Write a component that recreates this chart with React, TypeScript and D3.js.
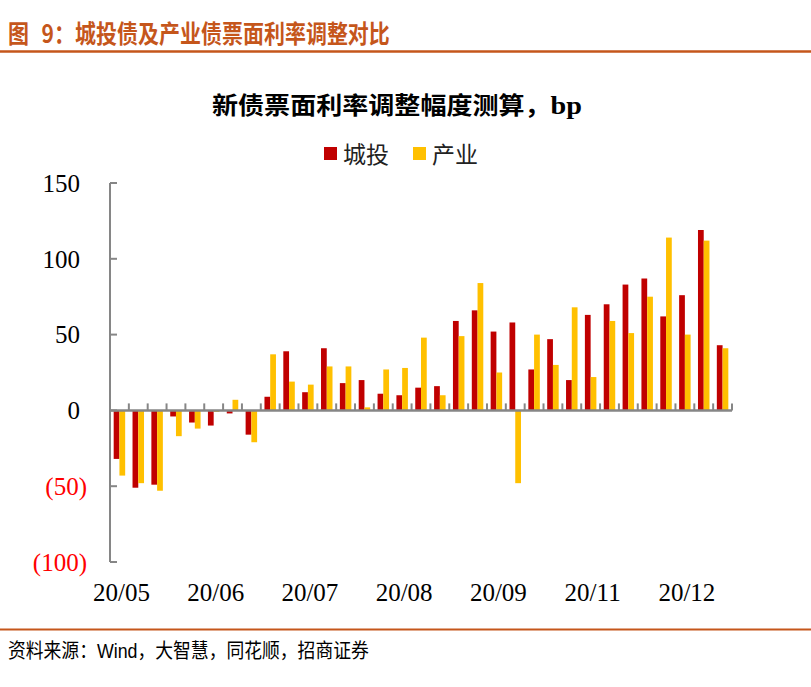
import React, {useEffect} from 'react';
import * as d3 from 'd3';

const xLabels = [
  '20/05', '', '', '', '',
  '20/06', '', '', '', '',
  '20/07', '', '', '', '',
  '20/08', '', '', '', '',
  '20/09', '', '', '', '',
  '20/11', '', '', '', '',
  '20/12', '', '',
];

const chengtou = [
  -32, -51, -49, -4, -8, -10, -2, -16, 9, 39, 12,
  41, 18, 20, 11, 10, 15, 16, 59, 66, 52, 58,
  27, 47, 20, 63, 70, 83, 87, 62, 76, 119, 43,
];

const chanye = [
  -43, -48, -53, -17, -12, -1, 7, -21, 37, 19, 17,
  29, 29, 2, 27, 28, 48, 10, 49, 84, 25, -48,
  50, 30, 68, 22, 59, 51, 75, 114, 50, 112, 41,
];

const seriesNames = ['城投', '产业'];
const seriesColors = ['#C00000', '#FFC000'];
const yTicks = [150, 100, 50, 0, -50, -100];

const W = 811;
const H = 687;
const left = 110;
const right = 732;
const top = 183;
const bottom = 562;

const fmt = (v: number) => (v < 0 ? `(${Math.abs(v)})` : `${v}`);

export default function App() {
  useEffect(() => {
    document.body.style.margin = '0';
  }, []);

  const x = d3.scaleBand<number>().domain(d3.range(xLabels.length)).range([left, right]);
  const inner = d3
    .scaleBand<string>()
    .domain(seriesNames)
    .range([0, x.bandwidth()])
    .paddingInner(0)
    .paddingOuter(0.64);
  const y = d3.scaleLinear().domain([-100, 150]).range([bottom, top]);
  const y0 = y(0);
  const series = [chengtou, chanye];
  const axisColor = '#868686';
  const serif = '"Liberation Serif", "Times New Roman", serif';
  const cjk = '"Noto Sans CJK SC", sans-serif';
  const headColor = '#C5561B';

  return (
    <svg width={W} height={H} style={{display: 'block', background: '#fff'}}>
      {/* header */}
      <g transform="translate(8, 43) scale(0.84, 1)" fill={headColor} fontFamily={cjk} fontWeight="bold" fontSize={25}>
        <text x={0}>图</text>
        <text x={40}>9：城投债及产业债票面利率调整对比</text>
      </g>
      <line x1={0} x2={W} y1={51.5} y2={51.5} stroke={headColor} strokeWidth={2.5} />

      {/* chart title */}
      <text x={212} y={114} fontFamily={cjk} fontWeight="bold" fontSize={24} fill="#000"
        textLength={370} lengthAdjust="spacingAndGlyphs">
        新债票面利率调整幅度测算，
        <tspan fontFamily={serif} fontSize={26}>bp</tspan>
      </text>

      {/* legend */}
      {seriesNames.map((name, i) => (
        <g key={name} transform={`translate(${324 + i * 89}, 147)`}>
          <rect width={13} height={13} fill={seriesColors[i]} />
          <text x={19} y={16} fontFamily={cjk} fontSize={23} fill="#222">
            {name}
          </text>
        </g>
      ))}

      {/* bars */}
      {series.map((vals, si) => (
        <g key={si} fill={seriesColors[si]}>
          {vals.map((v, i) => (
            <rect
              key={i}
              x={(x(i) as number) + (inner(seriesNames[si]) as number)}
              y={Math.min(y(v), y0)}
              width={inner.bandwidth()}
              height={Math.abs(y(v) - y0)}
            />
          ))}
        </g>
      ))}

      {/* y axis */}
      <line x1={left} x2={left} y1={top} y2={bottom} stroke={axisColor} strokeWidth={2} />
      {yTicks.map(t => (
        <g key={t}>
          <line x1={left} x2={left + 7} y1={y(t)} y2={y(t)} stroke={axisColor} strokeWidth={2} />
          <text
            x={t < 0 ? 87 : 80}
            y={y(t)}
            dy="0.35em"
            textAnchor="end"
            fontFamily={serif}
            fontSize={25}
            fill={t < 0 ? '#FF0000' : '#000'}>
            {fmt(t)}
          </text>
        </g>
      ))}

      {/* x axis */}
      <line x1={left} x2={right} y1={y0} y2={y0} stroke={axisColor} strokeWidth={2.5} />
      {xLabels.map((_, i) => (
        <line
          key={i}
          x1={(x(i) as number) + x.bandwidth()}
          x2={(x(i) as number) + x.bandwidth()}
          y1={y0}
          y2={y0 - 7}
          stroke={axisColor}
          strokeWidth={2}
        />
      ))}
      {xLabels.map((lab, i) =>
        lab ? (
          <text
            key={i}
            x={(x(i) as number) + x.bandwidth() / 2 + 2}
            y={601}
            textAnchor="middle"
            fontFamily={serif}
            fontSize={25}
            fill="#000">
            {lab}
          </text>
        ) : null,
      )}

      {/* footer */}
      <line x1={0} x2={W} y1={629.5} y2={629.5} stroke={headColor} strokeWidth={2} />
      <g transform="translate(8, 658) scale(0.89, 1)">
        <text fontFamily={cjk} fontSize={20} fill="#000">
          资料来源：<tspan fontFamily={'"Liberation Sans", Arial, sans-serif'}>Wind</tspan>，大智慧，同花顺，招商证券
        </text>
      </g>
    </svg>
  );
}
